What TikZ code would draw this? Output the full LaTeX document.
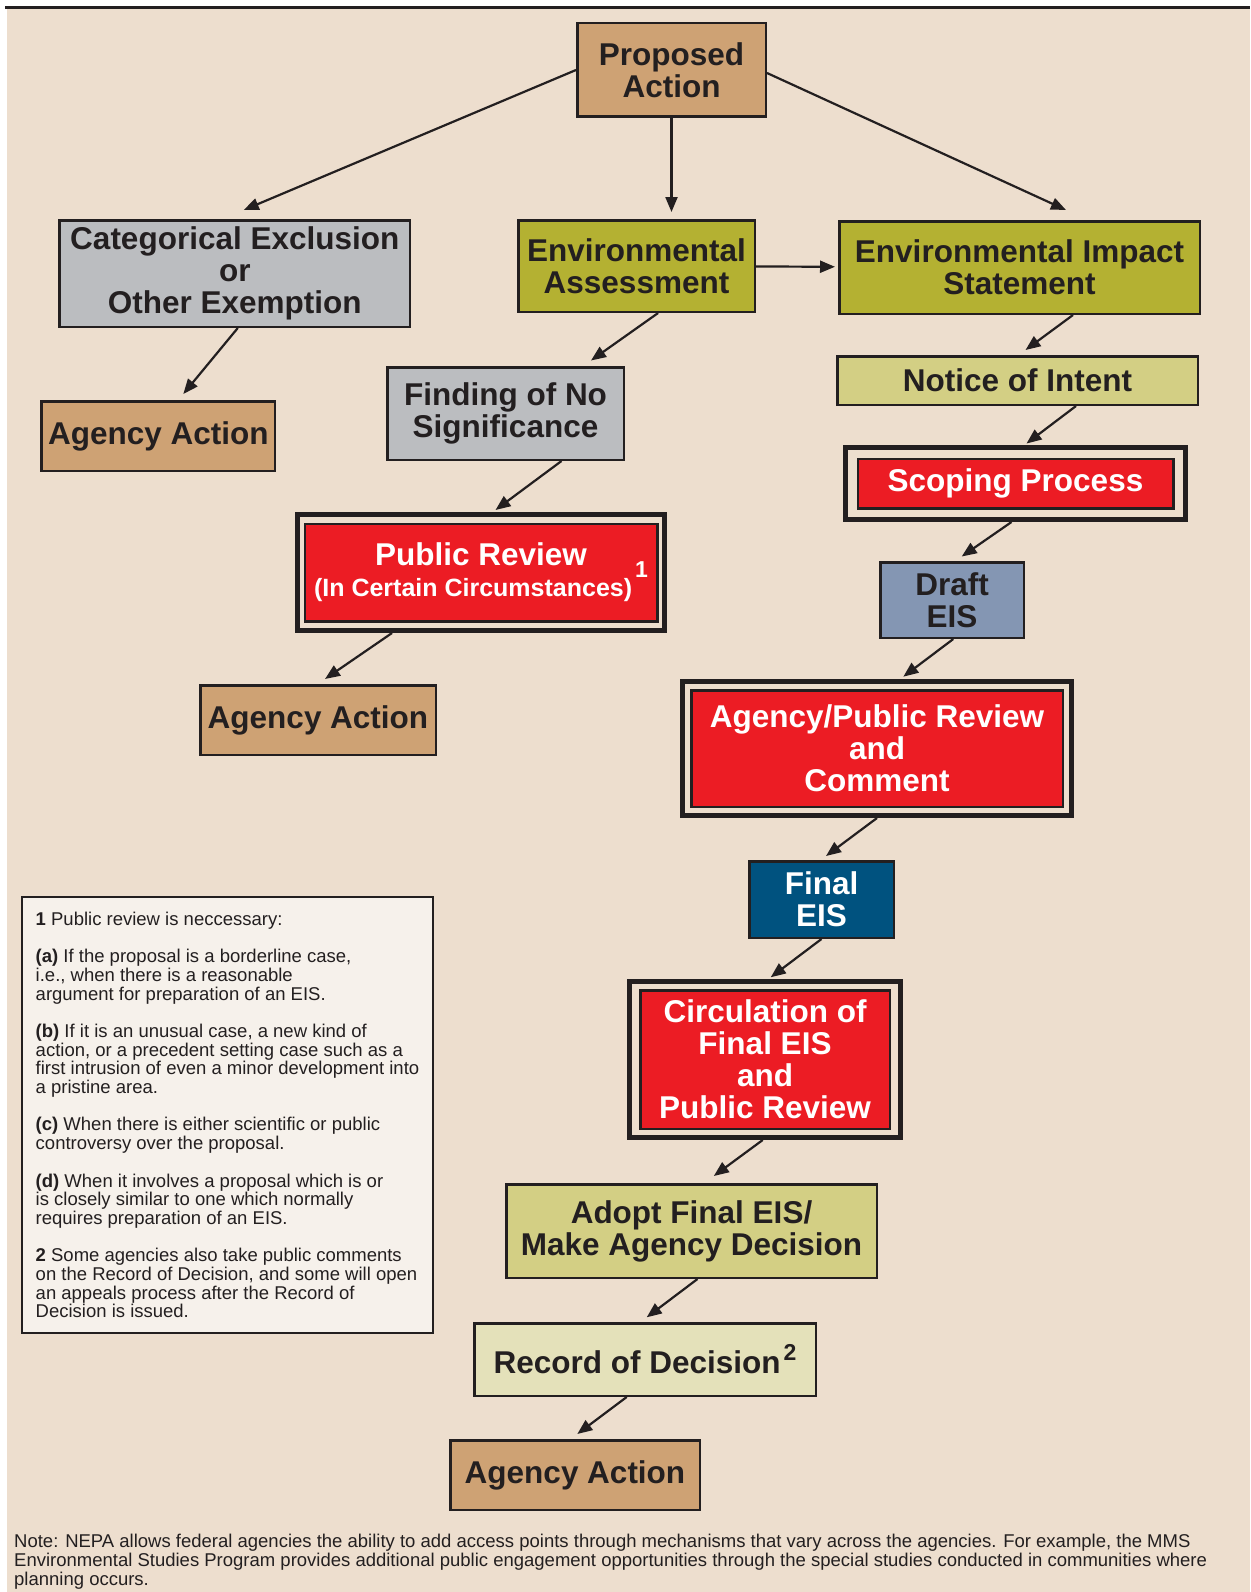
\documentclass[tikz,border=0pt]{standalone}
\usepackage{fontspec}
\setmainfont{Liberation Sans}
\usepackage{tikz}
\usetikzlibrary{positioning,arrows.meta}
\definecolor{bgfill}{HTML}{EDDECE}
\definecolor{linecol}{HTML}{231F20}
\definecolor{tanfill}{HTML}{CEA274}
\definecolor{greyfill}{HTML}{BBBDC0}
\definecolor{olivefill}{HTML}{B4B132}
\definecolor{palefill}{HTML}{D3CF84}
\definecolor{slatefill}{HTML}{8496B3}
\definecolor{navyfill}{HTML}{00527F}
\definecolor{recfill}{HTML}{E4E1BA}
\definecolor{redfill}{HTML}{EC1C24}
\definecolor{notefill}{HTML}{F6F1EB}
\def\BoxFont{\fontsize{31.5pt}{32pt}\selectfont\bfseries}
\def\NoteFont{\fontsize{18.5pt}{18.7pt}\selectfont}
\def\SupMark#1#2{\kern3pt\raisebox{#1}{\fontsize{23pt}{23pt}\selectfont\bfseries #2}}

\begin{document}
\begin{tikzpicture}[x=1pt, y=1pt,
    box/.style={draw=linecol, line width=2.5pt, text=linecol, font=\BoxFont, align=center, inner sep=0pt},
    tanbox/.style={box, fill=tanfill},
    greybox/.style={box, fill=greyfill},
    olivebox/.style={box, fill=olivefill},
    paleolive/.style={box, fill=palefill},
    slatebox/.style={box, fill=slatefill},
    navybox/.style={box, fill=navyfill, text=white},
    recbox/.style={box, fill=recfill},
    redbox/.style={box, fill=redfill, text=white},
    outerframe/.style={draw=linecol, line width=5pt, fill=bgfill, inner sep=0pt},
    arr/.style={draw=linecol, line width=2.2pt, -{Triangle[length=15pt,width=12pt]}}]
    \useasboundingbox (0,0) rectangle (1250,-1592);
    \fill[bgfill] (7,-9) rectangle (1250,-1592);
    \draw[linecol, line width=3pt] (5,-8) -- (1250,-8);

    \node[tanbox, minimum width=188.5pt, minimum height=93.5pt] (prop) at (671.5,-70) {Proposed\\Action};
    \node[olivebox, minimum width=236.5pt, minimum height=91.5pt, below=101pt of prop, xshift=-35pt] (ea) {Environmental\\Assessment};
    \node[olivebox, minimum width=360.5pt, minimum height=92.5pt, right=82pt of ea, yshift=-1.5pt] (eis) {Environmental Impact\\Statement};
    \node[greybox, minimum width=350.5pt, minimum height=106.5pt, left=105.7pt of ea, yshift=-7.5pt] (catex) {Categorical Exclusion\\or\\Other Exemption};
    \node[tanbox, minimum width=233.5pt, minimum height=69.5pt, below=72pt of catex, xshift=-76.5pt] (actA) {Agency Action};

    \node[greybox, minimum width=236.5pt, minimum height=92.5pt, below=53pt of ea, xshift=-131pt] (fonsi) {Finding of No\\Significance};
    \node[outerframe, minimum width=367pt, minimum height=116pt, below=51pt of fonsi, xshift=-24.5pt] (pubrev) {};
    \node[redbox, minimum width=352.5pt, minimum height=97.5pt] (pubrevin) at (pubrev) {Public Review\\[-5pt]{\fontsize{25pt}{26pt}\selectfont(In Certain Circumstances)\SupMark{19pt}{1}}};
    \node[tanbox, minimum width=235.5pt, minimum height=69.5pt, below=51pt of pubrev, xshift=-163pt] (actB) {Agency Action};

    \node[paleolive, minimum width=360.5pt, minimum height=48.5pt, below=40pt of eis, xshift=-2pt] (noi) {Notice of Intent};
    \node[outerframe, minimum width=340pt, minimum height=72pt, below=39pt of noi, xshift=-2pt] (scope) {};
    \node[redbox, minimum width=315.5pt, minimum height=49.5pt] (scopein) at (scope) {Scoping Process};
    \node[slatebox, minimum width=143.5pt, minimum height=75.5pt, below=39pt of scope, xshift=-63.5pt] (draft) {Draft\\EIS};
    \node[outerframe, minimum width=389pt, minimum height=134pt, below=40pt of draft, xshift=-75pt] (agpub) {};
    \node[redbox, minimum width=371.5pt, minimum height=116.5pt] (agpubin) at (agpub) {Agency/Public Review\\and\\Comment};
    \node[navybox, minimum width=144.5pt, minimum height=76.5pt, below=42pt of agpub, xshift=-55.5pt] (final) {Final\\EIS};
    \node[outerframe, minimum width=271pt, minimum height=156pt, below=40pt of final, xshift=-56.5pt] (circ) {};
    \node[redbox, minimum width=249.5pt, minimum height=138.5pt] (circin) at (circ) {Circulation of\\Final EIS\\and\\Public Review};
    \node[paleolive, minimum width=370.5pt, minimum height=93.5pt, below=43pt of circ, xshift=-73.5pt] (adopt) {Adopt Final EIS/\\Make Agency Decision};
    \node[recbox, minimum width=341.5pt, minimum height=72.5pt, below=43pt of adopt, xshift=-46.5pt] (rod) {Record of Decision\SupMark{13pt}{2}};
    \node[tanbox, minimum width=249.5pt, minimum height=69.5pt, below=42pt of rod, xshift=-70pt] (actC) {Agency Action};

    \node[draw=linecol, line width=2pt, fill=notefill, anchor=north west, minimum width=411pt, minimum height=436pt, inner sep=0pt, align=left, font=\NoteFont, text=linecol] (fnote) at (21,-896) {%
        \textbf{1} Public review is neccessary:\\[18.7pt]
        \textbf{(a)} If the proposal is a borderline case,\\
        i.e., when there is a reasonable\\
        argument for preparation of an EIS.\\[18.7pt]
        \textbf{(b)} If it is an unusual case, a new kind of\\
        action, or a precedent setting case such as a\\
        first intrusion of even a minor development into\\
        a pristine area.\\[18.7pt]
        \textbf{(c)} When there is either scientific or public\\
        controversy over the proposal.\\[18.7pt]
        \textbf{(d)} When it involves a proposal which is or\\
        is closely similar to one which normally\\
        requires preparation of an EIS.\\[18.7pt]
        \textbf{2} Some agencies also take public comments\\
        on the Record of Decision, and some will open\\
        an appeals process after the Record of\\
        Decision is issued.};
    \node[anchor=north west, align=left, inner sep=0pt, font=\NoteFont, text=linecol] (note) at (14,-1534) {Note: NEPA allows federal agencies the ability to add access points through mechanisms that vary across the agencies. For example, the MMS\\
        Environmental Studies Program provides additional public engagement opportunities through the special studies conducted in communities where\\
        planning occurs.};

    \draw[arr] (prop.west) -- ([xshift=9pt,yshift=9pt]catex.north);
    \draw[arr] (prop.south) -- ([xshift=35pt,yshift=7pt]ea.north);
    \draw[arr] ([yshift=-3pt]prop.east) -- ([xshift=46.5pt,yshift=10pt]eis.north);
    \draw[arr, shorten >=3pt] (ea) -- (eis);
    \draw[arr] ([xshift=3pt]catex.south) -- ([xshift=25pt,yshift=6pt]actA.north);
    \draw[arr] ([xshift=21.6pt]ea.south) -- ([xshift=85.5pt,yshift=5.5pt]fonsi.north);
    \draw[arr] ([xshift=56pt]fonsi.south) -- ([xshift=14.5pt,yshift=2pt]pubrev.north);
    \draw[arr] ([xshift=-89pt]pubrev.south) -- ([xshift=7pt,yshift=5pt]actB.north);
    \draw[arr] ([xshift=53.5pt]eis.south) -- ([xshift=8pt,yshift=5pt]noi.north);
    \draw[arr] ([xshift=58.5pt]noi.south) -- ([xshift=11pt,yshift=1.5pt]scope.north);
    \draw[arr] ([xshift=-4pt]scope.south) -- ([xshift=9.7pt,yshift=4.5pt]draft.north);
    \draw[arr] ([xshift=1.3pt]draft.south) -- ([xshift=26.3pt,yshift=2.3pt]agpub.north);
    \draw[arr] (agpub.south) -- ([xshift=4.5pt,yshift=4pt]final.north);
    \draw[arr] (final.south) -- ([xshift=5.7pt,yshift=1.7pt]circ.north);
    \draw[arr] ([xshift=-2.3pt]circ.south) -- ([xshift=22.3pt,yshift=7pt]adopt.north);
    \draw[arr] ([xshift=6pt]adopt.south) -- ([xshift=1.7pt,yshift=4.7pt]rod.north);
    \draw[arr] ([xshift=-18.3pt]rod.south) -- ([xshift=2.3pt,yshift=5pt]actC.north);
\end{tikzpicture}
\end{document}
